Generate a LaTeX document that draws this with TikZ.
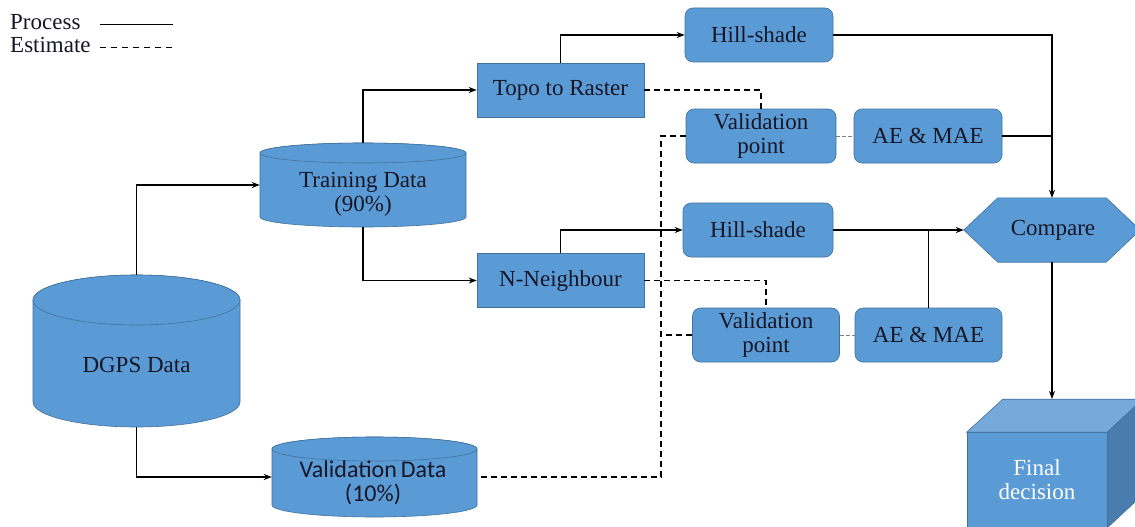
\documentclass[tikz,border=0pt]{standalone}
\usepackage{fontspec}
\setmainfont{Liberation Serif}
\newfontfamily\calib{Carlito}
\usetikzlibrary{arrows.meta,calc}
\definecolor{boxblue}{HTML}{5B9BD5}
\definecolor{boxedge}{HTML}{41719C}
\definecolor{cubetop}{HTML}{75AADB}
\definecolor{cubeside}{HTML}{4A7DAD}
\definecolor{ink}{HTML}{161626}

% database drum: centre x, top-ellipse y, bottom-ellipse y, x radius, y radius
\newcommand\drum[5]{%
  \path[drum] (#1-#4,#2) -- (#1-#4,#3)
     arc[start angle=180,end angle=0,x radius=#4,y radius=#5]
     -- (#1+#4,#2)
     arc[start angle=0,end angle=-180,x radius=#4,y radius=#5] -- cycle;
  \path[drum] (#1,#2) ellipse[x radius=#4,y radius=#5];
}

\begin{document}
\begin{tikzpicture}[x=1pt,y=-1pt,
  every node/.style={font=\fontsize{23}{24}\selectfont, text=ink, inner sep=0pt, align=center},
  sqbox/.style={draw=boxedge, fill=boxblue, line width=0.6pt, minimum width=167, minimum height=54},
  rbox/.style={sqbox, rounded corners=8pt, minimum width=148},
  area/.style={draw=none, inner sep=0pt},
  flow/.style={line width=1.3pt, -{Stealth[length=8pt,width=6pt]}},
  link/.style={line width=1.3pt},
  est/.style={line width=1.3pt, dash pattern=on 6pt off 4pt},
  faint/.style={line width=0.8pt, gray, dash pattern=on 4pt off 2pt},
  drum/.style={fill=boxblue, draw=boxedge, line width=0.6pt},
  legend/.style={font=\fontsize{23}{24}\selectfont, anchor=base west}]

\fill[white] (0,0) rectangle (1135,527);
\useasboundingbox (0,0) rectangle (1135,527);
\clip (0,0) rectangle (1135,527);

% legend
\node[legend] (lproc) at (10,30) {Process};
\node[legend] (lest) at (10,53) {Estimate};
\coordinate (lp1) at (100,25); \coordinate (lp2) at (173,25);
\coordinate (le1) at (100,48); \coordinate (le2) at (173,48);
\draw[line width=1pt] (lp1) -- (lp2);
\draw[line width=1pt, dash pattern=on 6pt off 5pt] (le1) -- (le2);

% data stores
\drum{136.5}{300}{402}{103.5}{25}
\node[area, minimum width=207, minimum height=152] (dgps) at (136.5,351) {};
\node at (136.5,365) {DGPS Data};

\drum{363}{153}{217}{103}{10}
\node[area, minimum width=206, minimum height=84] (train) at (363,185) {};
\node at (363,194) {Training Data\\(90\%)};

\drum{374.5}{449}{505}{102.5}{12}
\node[area, minimum width=205, minimum height=80] (vdata) at (374.5,477) {};
\node[font=\calib\fontsize{24}{24}\selectfont] at (373,483) {Validation\,Data\\(10\%)};

% processing steps
\node[sqbox] (topo) at (560.5,90) {Topo to Raster};
\node[sqbox] (nn) at (560.5,280.5) {N-Neighbour};
\node[rbox] (hs1) at (759,35) {Hill-shade};
\node[rbox, minimum width=150] (vp1) at (761,136) {Validation\\point};
\node[rbox] (ae1) at (928,136) {AE \& MAE};
\node[rbox, minimum width=150] (hs2) at (758,230) {Hill-shade};
\node[rbox, minimum width=147] (vp2) at (766,335) {Validation\\point};
\node[rbox, minimum width=147] (ae2) at (928.5,335) {AE \& MAE};

% compare hexagon
\node[area, minimum width=176, minimum height=64] (cmp) at (1052,230) {};
\path[drum] (cmp.west) -- ($(cmp.north west)+(34,0)$) -- ($(cmp.north east)+(-34,0)$)
  -- (cmp.east) -- ($(cmp.south east)+(-34,0)$) -- ($(cmp.south west)+(34,0)$) -- cycle;
\node at (1053,230) {Compare};

% final decision cube
\node[draw=boxedge, fill=boxblue, line width=0.6pt, minimum width=140, minimum height=95,
      text=white, font=\fontsize{23}{24}\selectfont] (fin) at (1037,480) {Final\\decision};
\path[draw=boxedge, fill=cubetop, line width=0.6pt] (fin.north west) -- ++(36,-33) -- ++(140,0)
  -- (fin.north east) -- cycle;
\path[draw=boxedge, fill=cubeside, line width=0.6pt] (fin.north east) -- ++(36,-33) -- ++(0,95)
  -- (fin.south east) -- cycle;
\coordinate (fintop) at (1052,399);

% process flow
\draw[flow] (dgps.north) |- (train.west);
\draw[flow] (dgps.south) |- (vdata.west);
\draw[flow] (train.north) |- (topo.west);
\draw[flow] (train.south) |- (nn.west);
\draw[flow] (topo.north) |- (hs1.west);
\draw[flow] (nn.north) |- (hs2.west);
\draw[flow] (hs1.east) -| (cmp.north);
\draw[link] (ae1.east) -- (ae1.east -| cmp.north);
\draw[flow] (hs2.east) -- (cmp.west);
\draw[link] (ae2.north) -- (ae2.north |- hs2.east);
\draw[flow] (cmp.south) -- (cmp.south |- fintop);

% estimate flow
\coordinate (bus) at (661,0);
\draw[est] (topo.east) -| (vp1.north);
\draw[est] (nn.east) -| (vp2.north);
\draw[est] (vp1.west) -- (vp1.west -| bus) |- (vdata.east);
\draw[est] (vp2.west) -- (vp2.west -| bus);
\draw[faint] (vp1.east) -- (ae1.west);
\draw[faint] (vp2.east) -- (ae2.west);
\end{tikzpicture}
\end{document}
